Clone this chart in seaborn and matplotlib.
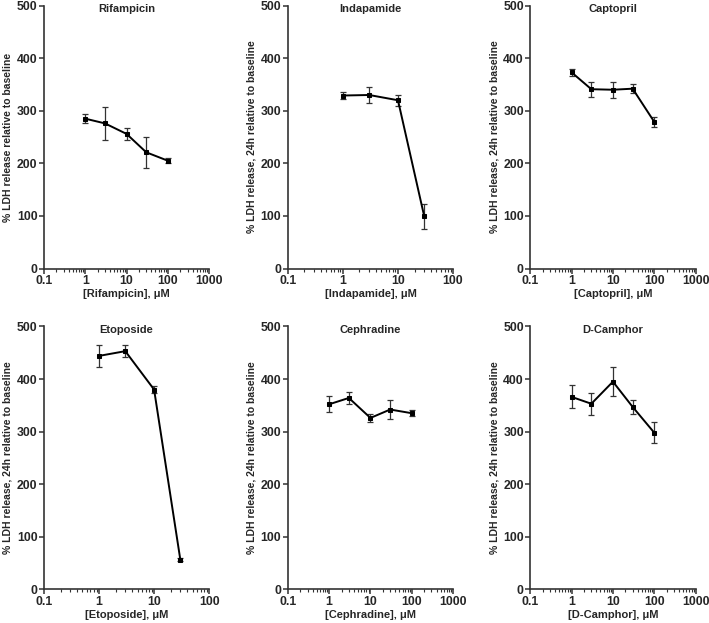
import numpy as np
import pandas as pd
import matplotlib
matplotlib.use("Agg")
import matplotlib.pyplot as plt
import matplotlib.ticker as mticker
import seaborn as sns

# concentrations (uM)
conc = [1, 3, 10, 30, 100]
conc_short = [1, 3, 10, 30]

# mean % LDH release and error
rif_mean = [285, 276, 256, 221, 205]
rif_err = [9, 31, 11, 29, 5]
ind_mean = [329, 330, 320, 99]
ind_err = [6, 15, 10, 24]
cap_mean = [373, 341, 340, 342, 279]
cap_err = [7, 14, 15, 8, 9]
eto_mean = [444, 453, 380, 56]
eto_err = [21, 11, 6, 3]
cep_mean = [352, 364, 326, 342, 335]
cep_err = [15, 12, 8, 18, 6]
cam_mean = [366, 353, 395, 347, 298]
cam_err = [22, 21, 28, 14, 20]

drugs = ["Rifampicin", "Indapamide", "Captopril", "Etoposide", "Cephradine", "D-Camphor"]
xmax = [1000, 100, 1000, 100, 1000, 1000]
ylabel_first = "% LDH release relative to baseline"
ylabel_rest = "% LDH release, 24h relative to baseline"

series = [
    (conc, rif_mean, rif_err),
    (conc_short, ind_mean, ind_err),
    (conc, cap_mean, cap_err),
    (conc_short, eto_mean, eto_err),
    (conc, cep_mean, cep_err),
    (conc, cam_mean, cam_err),
]

sns.set_style("ticks")
plt.rcParams["font.family"] = ["Liberation Sans", "DejaVu Sans"]
plt.rcParams["font.weight"] = "bold"
plt.rcParams["axes.labelweight"] = "bold"

fig = plt.figure(figsize=(7.09, 6.23), dpi=100)

lefts = [0.062, 0.406, 0.748]
bottoms = [0.569, 0.054]
w, h = 0.233, 0.422

for i, (name, (x, y, e)) in enumerate(zip(drugs, series)):
    row, col = divmod(i, 3)
    ax = fig.add_axes([lefts[col], bottoms[row], w, h])
    df = pd.DataFrame({"conc": x, "ldh": y})
    ax.errorbar(x, y, yerr=e, fmt="none", ecolor="#333333", elinewidth=0.9,
                capsize=2.2, capthick=0.9, zorder=2)
    sns.lineplot(data=df, x="conc", y="ldh", ax=ax, color="black", linewidth=1.4,
                 marker="s", markersize=3, markeredgecolor="black", zorder=3)
    ax.set_xscale("log")
    ax.set_xlim(0.1, xmax[i])
    ax.set_ylim(0, 500)
    ax.set_yticks([0, 100, 200, 300, 400, 500])
    ax.xaxis.set_major_locator(mticker.LogLocator(base=10))
    ax.xaxis.set_minor_locator(mticker.LogLocator(base=10, subs=np.arange(2, 10)))
    ax.xaxis.set_major_formatter(mticker.FuncFormatter(lambda v, p: f"{v:g}"))
    ax.xaxis.set_minor_formatter(mticker.NullFormatter())
    ax.tick_params(axis="both", which="major", labelsize=8.8, length=3.5, width=1.1,
                   color="#333333", pad=1.2)
    ax.tick_params(axis="x", which="minor", length=2, width=0.8, color="#333333")
    for lbl in ax.get_xticklabels() + ax.get_yticklabels():
        lbl.set_fontweight("bold")
    for s in ["left", "bottom"]:
        ax.spines[s].set_linewidth(1.2)
        ax.spines[s].set_color("#333333")
    sns.despine(ax=ax)
    ax.set_xlabel(f"[{name}], \u03bcM", fontsize=8, fontweight="bold", labelpad=1.5)
    ax.set_ylabel(ylabel_first if i == 0 else ylabel_rest, fontsize=7.5,
                  fontweight="bold", labelpad=3)
    ax.set_title(name, fontsize=8, fontweight="bold", y=0.975, pad=0)

fig.savefig("out.png", dpi=100)
